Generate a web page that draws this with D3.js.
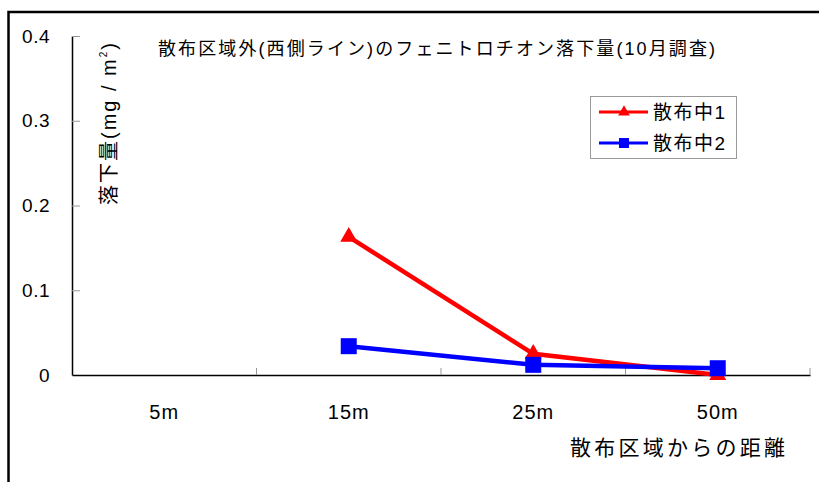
<!DOCTYPE html>
<html>
<head>
<meta charset="utf-8">
<script src="https://cdn.jsdelivr.net/npm/d3@7"></script>
<style>
  body { margin: 0; background: #fff; }
  text { font-family: "Liberation Sans", Arial, "Noto Sans CJK JP", sans-serif; fill: #000; }
</style>
</head>
<body>
<div id="chart"></div>
<script>
// chart data
var categories = ["5m", "15m", "25m", "50m"];
var series1 = [null, 0.163, 0.025, 0.0];     // 散布中1
var series2 = [null, 0.034, 0.012, 0.008];   // 散布中2
var yTicks = [0, 0.1, 0.2, 0.3, 0.4];
var seriesNames = ["散布中1", "散布中2"];

var width = 819, height = 482;
var plotLeft = 72, plotRight = 810, plotTop = 36, plotBottom = 375;

var svg = d3.select("#chart").append("svg")
  .attr("width", width)
  .attr("height", height);

// outer frame (runs off the right and bottom edge)
svg.append("rect")
  .attr("x", 8.5).attr("y", 12)
  .attr("width", 830).attr("height", 500)
  .style("fill", "none").style("stroke", "#000").style("stroke-width", 2.5);

var x = d3.scaleBand().domain(categories).range([plotLeft, plotRight]);
var y = d3.scaleLinear().domain([0, 0.4]).range([plotBottom, plotTop]);

// y axis, ticks point inward
var yAxis = svg.append("g")
  .attr("transform", "translate(" + plotLeft + ",0)")
  .call(d3.axisLeft(y).tickValues(yTicks).tickSizeInner(-8).tickSizeOuter(0).tickPadding(22)
    .tickFormat(function(d){ return d === 0 ? "0" : d3.format(".1f")(d); }));
yAxis.select(".domain").style("stroke", "#000").style("stroke-width", 1.5);
yAxis.selectAll(".tick line").style("stroke", "#999");
yAxis.selectAll(".tick text").style("font-size", "19px").style("letter-spacing", "0.5px");

// x axis: labels at band centres
var xAxis = svg.append("g")
  .attr("transform", "translate(0," + plotBottom + ")")
  .call(d3.axisBottom(x).tickSize(0).tickPadding(30));
xAxis.select(".domain").style("stroke", "#000").style("stroke-width", 1.5);
xAxis.selectAll(".tick text").style("font-size", "20px").style("letter-spacing", "1px");

// x tick marks at band boundaries
svg.selectAll(".xtick")
  .data(categories).enter()
  .append("line").attr("class", "xtick")
  .attr("x1", function(d){ return x(d) + x.bandwidth(); })
  .attr("x2", function(d){ return x(d) + x.bandwidth(); })
  .attr("y1", plotBottom).attr("y2", plotBottom - 7)
  .style("stroke", "#999").style("stroke-width", 1);

function cx(i){ return x(categories[i]) + x.bandwidth() / 2; }

var line = d3.line()
  .defined(function(d){ return d != null; })
  .x(function(d, i){ return cx(i); })
  .y(function(d){ return y(d); });

// series 1: red, triangles
svg.append("path")
  .datum(series1)
  .attr("d", line)
  .style("fill", "none").style("stroke", "#ff0000").style("stroke-width", 4.5);

var tri = d3.symbol().type(d3.symbolTriangle).size(125);
svg.selectAll(".tri")
  .data(series1.map(function(d, i){ return {v: d, i: i}; }).filter(function(d){ return d.v != null; }))
  .enter().append("path").attr("class", "tri")
  .attr("d", tri)
  .attr("transform", function(d){ return "translate(" + cx(d.i) + "," + y(d.v) + ")"; })
  .style("fill", "#ff0000");

// series 2: blue, squares
svg.append("path")
  .datum(series2)
  .attr("d", line)
  .style("fill", "none").style("stroke", "#0000ff").style("stroke-width", 4.5);

svg.selectAll(".sq")
  .data(series2.map(function(d, i){ return {v: d, i: i}; }).filter(function(d){ return d.v != null; }))
  .enter().append("rect").attr("class", "sq")
  .attr("x", function(d){ return cx(d.i) - 8; })
  .attr("y", function(d){ return y(d.v) - 8; })
  .attr("width", 16).attr("height", 16)
  .style("fill", "#0000ff");

// title
svg.append("text")
  .attr("x", 158).attr("y", 55)
  .attr("textLength", 557).attr("lengthAdjust", "spacing")
  .style("font-size", "18px")
  .text("散布区域外(西側ライン)のフェニトロチオン落下量(10月調査)");

// y axis title
var yt = svg.append("text")
  .attr("transform", "translate(116,205) rotate(-90)")
  .style("font-size", "20px").style("letter-spacing", "2px");
yt.append("tspan").text("落下量(mg / m");
yt.append("tspan").attr("dy", -9).style("font-size", "10px").text("2");
yt.append("tspan").attr("dy", 9).text(")");

// x axis title
svg.append("text")
  .attr("x", 570).attr("y", 455)
  .attr("textLength", 215).attr("lengthAdjust", "spacing")
  .style("font-size", "21px")
  .text("散布区域からの距離");

// legend
var legend = svg.append("g");
legend.append("rect")
  .attr("x", 590.5).attr("y", 96.5)
  .attr("width", 146).attr("height", 62)
  .style("fill", "#fff").style("stroke", "#999").style("stroke-width", 1);

var legendColors = ["#ff0000", "#0000ff"];
var ly = d3.scalePoint().domain(seriesNames).range([112, 143]);

legend.selectAll(".lline")
  .data(seriesNames).enter()
  .append("line")
  .attr("x1", 599).attr("x2", 648)
  .attr("y1", function(d){ return ly(d); }).attr("y2", function(d){ return ly(d); })
  .style("stroke", function(d, i){ return legendColors[i]; })
  .style("stroke-width", 3);

legend.append("path")
  .attr("d", d3.symbol().type(d3.symbolTriangle).size(60))
  .attr("transform", "translate(624," + ly(seriesNames[0]) + ")")
  .style("fill", "#ff0000");
legend.append("rect")
  .attr("x", 619).attr("y", ly(seriesNames[1]) - 5)
  .attr("width", 10).attr("height", 10)
  .style("fill", "#0000ff");

legend.selectAll(".ltext")
  .data(seriesNames).enter()
  .append("text")
  .attr("x", 653)
  .attr("y", function(d){ return ly(d) + 7; })
  .attr("textLength", 72).attr("lengthAdjust", "spacing")
  .style("font-size", "19px")
  .text(function(d){ return d; });
</script>
</body>
</html>
